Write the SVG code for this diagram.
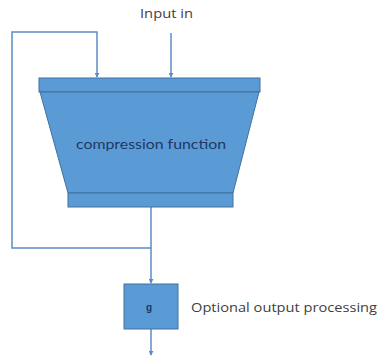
<svg xmlns="http://www.w3.org/2000/svg" width="379" height="359" viewBox="0 0 379 359">
<style>
.shape{fill:#5b9bd5;stroke:#41719c;stroke-width:1}
.conn{fill:none;stroke:#5b8cc4;stroke-width:1.5}
.lbl{font-family:"Open Sans","Liberation Sans",sans-serif;font-size:12px;fill:#404040}
</style>
<defs>
<marker id="arr" viewBox="0 0 6 6" refX="5" refY="3" markerWidth="5" markerHeight="5" orient="auto" markerUnits="userSpaceOnUse">
<path d="M0,0 L6,3 L0,6 z" fill="#5b8cc4"/>
</marker>
</defs>
<rect width="379" height="359" fill="#ffffff"/>
<g id="connectors">
<path class="conn" d="M151,207 V283" marker-end="url(#arr)"/>
<path class="conn" d="M151,248 H12 V32 H97 V77" marker-end="url(#arr)"/>
<path class="conn" d="M171,33 V77" marker-end="url(#arr)"/>
<path class="conn" d="M151,329 V355" marker-end="url(#arr)"/>
</g>
<g id="compression">
<rect class="shape" x="39" y="78" width="221" height="14"/>
<path class="shape" d="M40,92 H259 L233,193 H68 Z"/>
<rect class="shape" x="68" y="193" width="165" height="14"/>
<text x="76" y="149" textLength="150" lengthAdjust="spacingAndGlyphs" font-family="Lato,'Liberation Sans',sans-serif" font-size="12.5" fill="#1f3864">compression function</text>
</g>
<g id="output">
<rect class="shape" x="124" y="284" width="54" height="45"/>
<text x="149" y="311" text-anchor="middle" font-family="'Liberation Sans',sans-serif" font-size="10" font-weight="bold" fill="#1f3864">g</text>
</g>
<g id="labels">
<text class="lbl" x="140" y="18" textLength="53" lengthAdjust="spacingAndGlyphs">Input in</text>
<text class="lbl" x="191" y="312" textLength="186" lengthAdjust="spacingAndGlyphs">Optional output processing</text>
</g>
</svg>
